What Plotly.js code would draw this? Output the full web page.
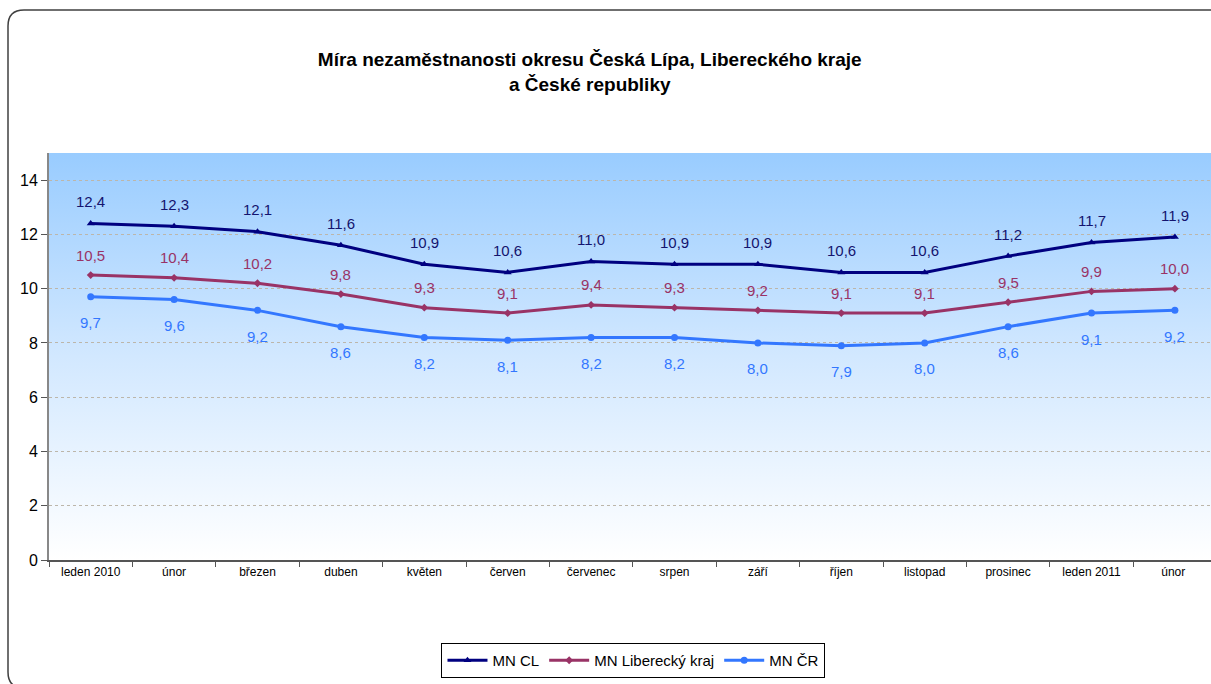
<!DOCTYPE html>
<html>
<head>
<meta charset="utf-8">
<script src="https://cdn.plot.ly/plotly-3.0.1.min.js"></script>
<style>html,body{margin:0;padding:0;background:#fff;}#chart{width:1211px;height:684px;}</style>
</head>
<body>
<div id="chart"></div>
<script>
const months = ["leden 2010","únor","březen","duben","květen","červen","červenec","srpen","září","říjen","listopad","prosinec","leden 2011","únor "];
const mnCL = [12.4,12.3,12.1,11.6,10.9,10.6,11.0,10.9,10.9,10.6,10.6,11.2,11.7,11.9];
const mnLK = [10.5,10.4,10.2,9.8,9.3,9.1,9.4,9.3,9.2,9.1,9.1,9.5,9.9,10.0];
const mnCR = [9.7,9.6,9.2,8.6,8.2,8.1,8.2,8.2,8.0,7.9,8.0,8.6,9.1,9.2];
const seriesNames = ["MN CL","MN Liberecký kraj","MN ČR"];

const W = 1211, H = 684, L = 49, R = 0, T = 153, B = 124;
const pw = W - L - R, ph = H - T - B;
const px = x => (x - L) / pw;
const py = y => (H - B - y) / ph;

const narrow = '"Liberation Sans Narrow", "Arial Narrow", "Liberation Sans", Arial, sans-serif';
const arial = '"Liberation Sans", Arial, sans-serif';

const colors = ['#000080', '#993366', '#3377ff'];
const labelColors = ['#14146e', '#993366', '#3377ff'];

function mk(name, y, color, sym, size) {
  return {
    type: 'scatter', mode: 'lines+markers', name: name,
    x: months, y: y,
    line: {color: color, width: 3},
    marker: {color: color, symbol: sym, size: size},
    cliponaxis: false, hoverinfo: 'skip'
  };
}

const traces = [
  mk(seriesNames[0], mnCL, colors[0], 'triangle-up', 7),
  mk(seriesNames[1], mnLK, colors[1], 'diamond', 6),
  mk(seriesNames[2], mnCR, colors[2], 'circle', 7)
];

const fmt = v => v.toFixed(1).replace('.', ',');
const annotations = [];
[[mnCL, 22, labelColors[0]], [mnLK, 20, labelColors[1]], [mnCR, -26, labelColors[2]]].forEach(([arr, shift, col]) => {
  arr.forEach((v, i) => {
    annotations.push({x: months[i], y: v, xref: 'x', yref: 'y', text: fmt(v), showarrow: false,
      yshift: shift, font: {family: arial, size: 15, color: col}});
  });
});

const grad = 'data:image/svg+xml;utf8,' + encodeURIComponent(
  '<svg xmlns="http://www.w3.org/2000/svg" width="100" height="100" preserveAspectRatio="none">' +
  '<defs><linearGradient id="g" x1="0" y1="0" x2="0" y2="1">' +
  '<stop offset="0" stop-color="#99CCFF"/><stop offset="0.5" stop-color="#D2E8FF"/><stop offset="1" stop-color="#FFFFFF"/>' +
  '</linearGradient></defs><rect width="100" height="100" fill="url(#g)"/></svg>');

const border = 'M ' + px(1220) + ',' + py(688) + ' L ' + px(24) + ',' + py(688) +
  ' Q ' + px(8) + ',' + py(688) + ' ' + px(8) + ',' + py(672) +
  ' L ' + px(8) + ',' + py(26) + ' Q ' + px(8) + ',' + py(10) + ' ' + px(24) + ',' + py(10) +
  ' L ' + px(1220) + ',' + py(10);

const layout = {
  width: W, height: H,
  margin: {l: L, r: R, t: T, b: B, pad: 0},
  paper_bgcolor: '#ffffff', plot_bgcolor: 'rgba(0,0,0,0)',
  separators: ', ',
  title: {
    text: '<b>Míra nezaměstnanosti okresu Česká Lípa, Libereckého kraje<br>a České republiky</b>',
    font: {family: narrow, size: 19, color: '#000'},
    x: 0.487, xref: 'container', xanchor: 'center',
    y: 1 - 66 / H, yref: 'container', yanchor: 'top'
  },
  xaxis: {
    type: 'category', range: [-0.5, -0.5 + pw / 83.4],
    showgrid: false, showline: true, linecolor: '#555', linewidth: 1.5,
    ticks: 'outside', tickson: 'boundaries', ticklen: 5, tickcolor: '#555',
    tickfont: {family: narrow, size: 12, color: '#000'}, fixedrange: true
  },
  yaxis: {
    range: [0, 15], tickvals: [0,2,4,6,8,10,12,14],
    showgrid: true, gridcolor: '#bcb6aa', griddash: 'dot', gridwidth: 1,
    zeroline: false, showline: true, linecolor: '#888', linewidth: 2,
    ticks: 'outside', ticklen: 6, tickcolor: '#555',
    tickfont: {family: arial, size: 16, color: '#000'}, fixedrange: true
  },
  legend: {
    orientation: 'h', x: 0.503, xanchor: 'center', y: py(643), yanchor: 'top',
    bordercolor: '#000', borderwidth: 1, bgcolor: '#fff',
    font: {family: narrow, size: 15, color: '#000'},
    itemwidth: 40, tracegroupgap: 0
  },
  annotations: annotations,
  images: [{source: grad, xref: 'paper', yref: 'paper', x: 0, y: 1, sizex: 1, sizey: 1,
    xanchor: 'left', yanchor: 'top', sizing: 'stretch', layer: 'below'}],
  shapes: [{type: 'path', xref: 'paper', yref: 'paper', path: border,
    line: {color: '#404040', width: 1.5}, fillcolor: 'rgba(0,0,0,0)', layer: 'above'}],
  showlegend: true
};

Plotly.newPlot('chart', traces, layout, {displayModeBar: false, staticPlot: true});
</script>
</body>
</html>
